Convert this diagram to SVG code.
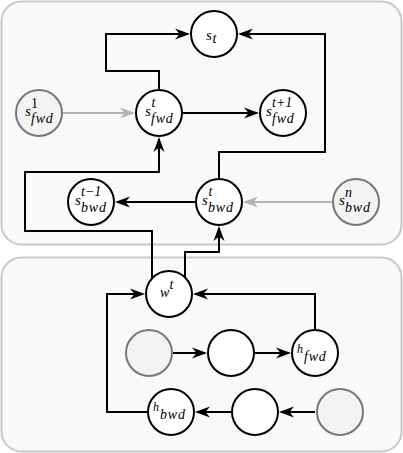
<svg xmlns="http://www.w3.org/2000/svg" width="403" height="453" viewBox="0 0 403 453">
<style>
.panel{fill:#f9f9f9;stroke:#c8c8c8;stroke-width:2}
.node{fill:#ffffff;stroke:#000;stroke-width:2}
.gnode{fill:#f3f3f3;stroke:#777;stroke-width:2}
.edge{fill:none;stroke:#000;stroke-width:2;marker-end:url(#ah)}
.gedge{fill:none;stroke:#b3b3b3;stroke-width:2;marker-end:url(#gah)}
text{font-family:'Liberation Serif','Times New Roman',serif;font-style:italic;fill:#000}
.b{font-size:15px}
.s{font-size:14px}
.w{font-size:14px;letter-spacing:0.8px}
.h{font-size:12px}
</style>
<defs>
<marker id="ah" markerUnits="userSpaceOnUse" markerWidth="20" markerHeight="14" viewBox="-16 -7 20 14" refX="0" refY="0" orient="auto">
<path d="M2,0 L-13,-5.5 L-8.5,0 L-13,5.5 Z" fill="#000"/>
</marker>
<marker id="gah" markerUnits="userSpaceOnUse" markerWidth="20" markerHeight="14" viewBox="-16 -7 20 14" refX="0" refY="0" orient="auto">
<path d="M2,0 L-13,-5.5 L-8.5,0 L-13,5.5 Z" fill="#b3b3b3"/>
</marker>
</defs>
<rect class="panel" x="1.5" y="1.5" width="400" height="243" rx="20"/>
<rect class="panel" x="1.5" y="257.5" width="400" height="194" rx="20"/>
<g id="connectors">
<path class="edge" d="M159,100 V71 H106 V34 H188"/>
<path class="edge" d="M219,190 V152 H325 V34 H240"/>
<path class="gedge" d="M63,113 H133"/>
<path class="edge" d="M183,113 H257"/>
<path class="gedge" d="M332,202 H245"/>
<path class="edge" d="M195,202 H117"/>
<path class="edge" d="M152,285 V231 H25 V172 H159 V139"/>
<path class="edge" d="M185,285 V252 H219 V228"/>
<path class="edge" d="M160,412 H107 V294 H143"/>
<path class="edge" d="M315,340 V294 H195"/>
<path class="edge" d="M173,353 H205"/>
<path class="edge" d="M255,353 H289"/>
<path class="edge" d="M315,412 H281"/>
<path class="edge" d="M231,412 H197"/>
</g>
<g id="s_t">
<circle class="node" cx="214" cy="34" r="23"/>
<text x="206" y="40" class="b">s</text><text x="212.5" y="43" class="s">t</text>
</g>
<g id="s_fwd_1">
<circle class="gnode" cx="39" cy="113" r="23"/>
<text x="25" y="116" class="b">s</text><text x="31" y="108" class="s" style="font-style:normal">1</text><text x="31" y="123" class="w">fwd</text>
</g>
<g id="s_fwd_t">
<circle class="node" cx="159" cy="113" r="23"/>
<text x="145" y="116" class="b">s</text><text x="151.5" y="107" class="s">t</text><text x="151" y="123" class="w">fwd</text>
</g>
<g id="s_fwd_t1">
<circle class="node" cx="283" cy="113" r="23"/>
<text x="266" y="116" class="b">s</text><text x="272" y="107" class="s">t+1</text><text x="272" y="123" class="w">fwd</text>
</g>
<g id="s_bwd_t1">
<circle class="node" cx="91" cy="202" r="23"/>
<text x="75" y="205" class="b">s</text><text x="81" y="196" class="s">t−1</text><text x="81" y="212" class="w">bwd</text>
</g>
<g id="s_bwd_t">
<circle class="node" cx="219" cy="202" r="23"/>
<text x="202" y="205" class="b">s</text><text x="208.5" y="196" class="s">t</text><text x="208" y="212" class="w">bwd</text>
</g>
<g id="s_bwd_n">
<circle class="gnode" cx="356" cy="202" r="23"/>
<text x="339" y="205" class="b">s</text><text x="345" y="197" class="s">n</text><text x="345" y="212" class="w">bwd</text>
</g>
<g id="w_t">
<circle class="node" cx="169" cy="294" r="23"/>
<text x="160" y="297" class="s">w</text><text x="169.5" y="289" class="s">t</text>
</g>
<g id="in_fwd">
<circle class="gnode" cx="149" cy="353" r="23"/>
</g>
<g id="mid_fwd">
<circle class="node" cx="231" cy="353" r="23"/>
</g>
<g id="h_fwd">
<circle class="node" cx="315" cy="353" r="23"/>
<text x="297" y="353" class="h">h</text><text x="304" y="361" class="w">fwd</text>
</g>
<g id="h_bwd">
<circle class="node" cx="171" cy="412" r="23"/>
<text x="153" y="411" class="h">h</text><text x="160" y="419" class="w">bwd</text>
</g>
<g id="mid_bwd">
<circle class="node" cx="255" cy="412" r="23"/>
</g>
<g id="in_bwd">
<circle class="gnode" cx="340" cy="412" r="23"/>
</g>
</svg>
